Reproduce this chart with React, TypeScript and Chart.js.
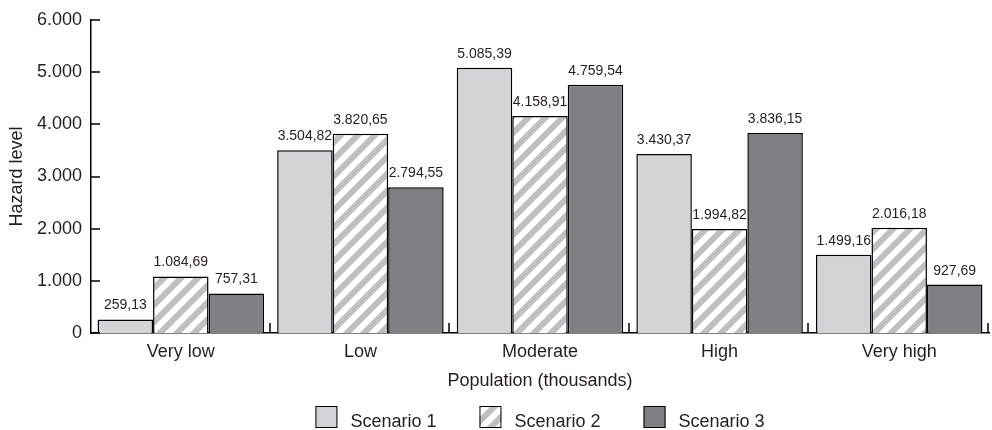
import React, { useEffect, useRef } from 'react';
import { Chart, registerables } from 'chart.js';

Chart.register(...registerables);

const categories = ['Very low', 'Low', 'Moderate', 'High', 'Very high'];
const seriesNames = ['Scenario 1', 'Scenario 2', 'Scenario 3'];
const scenario1 = [259.13, 3504.82, 5085.39, 3430.37, 1499.16];
const scenario2 = [1084.69, 3820.65, 4158.91, 1994.82, 2016.18];
const scenario3 = [757.31, 2794.55, 4759.54, 3836.15, 927.69];
const yMin = 0;
const yMax = 6000;
const yStep = 1000;
const xTitle = 'Population (thousands)';
const yTitle = 'Hazard level';

const FONT = "'Liberation Sans', Arial, Helvetica, sans-serif";
const TEXT = '#231f20';
const LIGHT = '#d3d4d6';
const DARK = '#7f8084';
const STRIPE = '#bfbfc1';

function fmt(n: number, decimals: number): string {
  const s = n.toFixed(decimals);
  const [i, d] = s.split('.');
  const intF = i.replace(/\B(?=(\d{3})+(?!\d))/g, '.');
  return d ? intF + ',' + d : intF;
}

function makeHatch(): CanvasPattern | string {
  const size = 17;
  const c = document.createElement('canvas');
  c.width = size;
  c.height = size;
  const g = c.getContext('2d');
  if (!g) return '#ffffff';
  g.fillStyle = '#ffffff';
  g.fillRect(0, 0, size, size);
  g.strokeStyle = STRIPE;
  g.lineWidth = 6;
  for (let k = 0; k <= 2; k++) {
    g.beginPath();
    g.moveTo(-3, size * k + 3);
    g.lineTo(size * k + 3, -3);
    g.stroke();
  }
  const p = g.createPattern(c, 'repeat');
  return p || '#ffffff';
}

export default function App() {
  const ref = useRef<HTMLCanvasElement | null>(null);

  useEffect(() => {
    document.body.style.margin = '0';
    const canvas = ref.current;
    if (!canvas) return;
    const hatch = makeHatch();
    const fills: any[] = [LIGHT, hatch, DARK];

    const dataLabels = {
      id: 'dataLabels',
      afterDatasetsDraw(chart: any) {
        const ctx = chart.ctx;
        ctx.save();
        ctx.font = `14px ${FONT}`;
        ctx.fillStyle = TEXT;
        ctx.textAlign = 'center';
        ctx.textBaseline = 'alphabetic';
        chart.data.datasets.forEach((ds: any, di: number) => {
          const meta = chart.getDatasetMeta(di);
          meta.data.forEach((el: any, i: number) => {
            ctx.fillText(fmt(ds.data[i], 2), el.x, el.y - 10);
          });
        });
        ctx.restore();
      },
    };

    const innerTicks = {
      id: 'innerTicks',
      afterDraw(chart: any) {
        const ctx = chart.ctx;
        const xs = chart.scales.x;
        const ys = chart.scales.y;
        const area = chart.chartArea;
        ctx.save();
        ctx.strokeStyle = '#000';
        ctx.lineWidth = 1.5;
        ys.ticks.forEach((t: any) => {
          const py = Math.round(ys.getPixelForValue(t.value));
          ctx.beginPath();
          ctx.moveTo(area.left, py);
          ctx.lineTo(area.left + 9, py);
          ctx.stroke();
        });
        const n = chart.data.labels.length;
        const w = (area.right - area.left) / n;
        for (let i = 1; i <= n; i++) {
          const px = Math.round(xs.left + i * w) - 1;
          ctx.beginPath();
          ctx.moveTo(px, area.bottom);
          ctx.lineTo(px, area.bottom - 10);
          ctx.stroke();
        }
        ctx.restore();
      },
    };

    const bottomLegend = {
      id: 'bottomLegend',
      afterDraw(chart: any) {
        const ctx = chart.ctx;
        const area = chart.chartArea;
        ctx.save();
        ctx.font = `18px ${FONT}`;
        const box = 22;
        const gap = 13;
        const spacing = 43;
        const widths = seriesNames.map((s) => box + gap + ctx.measureText(s).width);
        const total = widths.reduce((a, b) => a + b, 0) + spacing * (seriesNames.length - 1);
        let x = (area.left + area.right) / 2 - total / 2;
        const top = 406;
        seriesNames.forEach((s, i) => {
          ctx.fillStyle = fills[i];
          ctx.fillRect(x, top, box, box);
          ctx.strokeStyle = '#000';
          ctx.lineWidth = 1;
          ctx.strokeRect(x + 0.5, top + 0.5, box - 1, box - 1);
          ctx.fillStyle = TEXT;
          ctx.textAlign = 'left';
          ctx.textBaseline = 'alphabetic';
          ctx.fillText(s, x + box + gap, top + 21);
          x += widths[i] + spacing;
        });
        ctx.restore();
      },
    };

    const chart = new Chart(canvas, {
      type: 'bar',
      data: {
        labels: categories,
        datasets: [
          { label: seriesNames[0], data: scenario1, backgroundColor: LIGHT, borderColor: '#000', borderWidth: 1.5 },
          { label: seriesNames[1], data: scenario2, backgroundColor: hatch as any, borderColor: '#000', borderWidth: 1.5 },
          { label: seriesNames[2], data: scenario3, backgroundColor: DARK, borderColor: '#000', borderWidth: 1.5 },
        ],
      },
      options: {
        animation: false,
        responsive: false,
        maintainAspectRatio: false,
        layout: { padding: { left: 0, right: 3, top: 20, bottom: 37 } },
        datasets: { bar: { categoryPercentage: 0.927, barPercentage: 1.0 } },
        plugins: { legend: { display: false }, tooltip: { enabled: false } },
        scales: {
          x: {
            offset: true,
            grid: { display: false, drawTicks: false },
            border: { display: true, color: '#000', width: 1.5 },
            ticks: { color: TEXT, font: { family: FONT, size: 18 }, padding: 8, maxRotation: 0 },
            title: { display: true, text: xTitle, color: TEXT, font: { family: FONT, size: 18 }, padding: { top: 0, bottom: 1 } },
            afterFit: (s: any) => { s.height = 60; },
          },
          y: {
            min: yMin,
            max: yMax,
            grid: { display: false, drawTicks: false },
            border: { display: true, color: '#000', width: 1.5 },
            ticks: {
              stepSize: yStep,
              color: TEXT,
              font: { family: FONT, size: 18 },
              padding: 9,
              callback: (v: any) => fmt(Number(v), 0),
            },
            title: { display: true, text: yTitle, color: TEXT, font: { family: FONT, size: 18 }, padding: { top: 6, bottom: 0 } },
            afterFit: (s: any) => { s.width = 91; },
          },
        },
      } as any,
      plugins: [dataLabels, innerTicks, bottomLegend],
    });

    return () => chart.destroy();
  }, []);

  return (
    <div style={{ width: 992, height: 430, background: '#fff' }}>
      <canvas ref={ref} width={992} height={430} style={{ display: 'block' }} />
    </div>
  );
}
